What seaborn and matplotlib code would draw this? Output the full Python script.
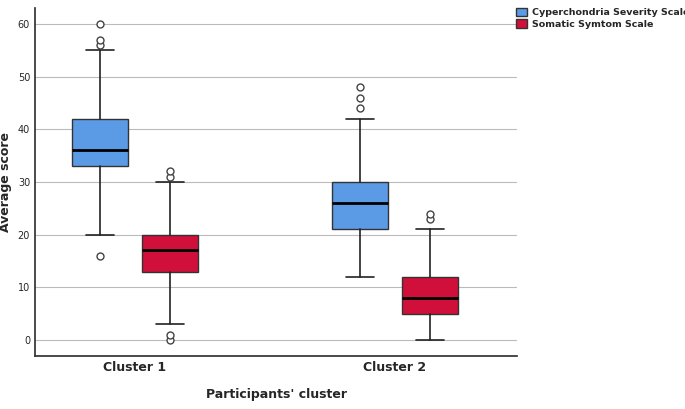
import matplotlib
matplotlib.use("Agg")
import matplotlib.pyplot as plt
import seaborn as sns
from matplotlib.patches import Patch

clusters = ["Cluster 1", "Cluster 2"]
series = ["Cyperchondria Severity Scale", "Somatic Symtom Scale"]
colors = ["#5B9BE6", "#D0103A"]
# [whislo, q1, median, q3, whishi]
severity_stats = [[20, 33, 36, 42, 55], [12, 21, 26, 30, 42]]
severity_fliers = [[16, 56, 57, 60], [44, 46, 48]]
somatic_stats = [[3, 13, 17, 20, 30], [0, 5, 8, 12, 21]]
somatic_fliers = [[0, 1, 31, 32], [23, 24]]
y_ticks = [0, 10, 20, 30, 40, 50, 60]

sns.set_theme(style="white")
fig = plt.figure(figsize=(6.85, 4.09), dpi=100)
ax = fig.add_axes([0.051, 0.13, 0.704, 0.85])

def mk(s, f):
    return dict(whislo=s[0], q1=s[1], med=s[2], q3=s[3], whishi=s[4], fliers=f)

for si, (stats, fl) in enumerate([(severity_stats, severity_fliers), (somatic_stats, somatic_fliers)]):
    off = -0.135 if si == 0 else 0.135
    bx = [mk(s, f) for s, f in zip(stats, fl)]
    ax.bxp(bx, positions=[i + off for i in range(len(clusters))], widths=0.215,
           capwidths=0.11,
           patch_artist=True, showcaps=True,
           boxprops=dict(facecolor=colors[si], edgecolor="#333333", linewidth=1),
           medianprops=dict(color="black", linewidth=2),
           whiskerprops=dict(color="#222222", linewidth=1.2),
           capprops=dict(color="#222222", linewidth=1.2),
           flierprops=dict(marker="o", markerfacecolor="white", markeredgecolor="#444444", markersize=5))

ax.set_xlim(-0.385, 1.47)
ax.set_ylim(-3, 63)
ax.set_yticks(y_ticks)
ax.set_xticks([0, 1])
ax.set_xticklabels(clusters, fontsize=9, fontweight="bold")
ax.tick_params(axis="y", labelsize=7, length=0)
ax.tick_params(axis="x", length=0)
ax.yaxis.grid(True, color="#BBBBBB", linewidth=0.8)
ax.set_axisbelow(True)
for sp in ["top", "right"]:
    ax.spines[sp].set_visible(False)
for sp in ["left", "bottom"]:
    ax.spines[sp].set_color("#333333")
ax.set_ylabel("Average score", fontsize=9, fontweight="bold")
ax.set_xlabel("Participants' cluster", fontsize=9, fontweight="bold", labelpad=10)

handles = [Patch(facecolor=c, edgecolor="#333333", label=l) for c, l in zip(colors, series)]
fig.legend(handles=handles, loc="upper left", bbox_to_anchor=(0.745, 0.995), frameon=False,
           handlelength=1.2, handleheight=1.0, labelspacing=0.2, handletextpad=0.5,
           borderaxespad=0.2, prop=dict(weight="bold", size=6.8))
fig.savefig("out.png", dpi=100)
